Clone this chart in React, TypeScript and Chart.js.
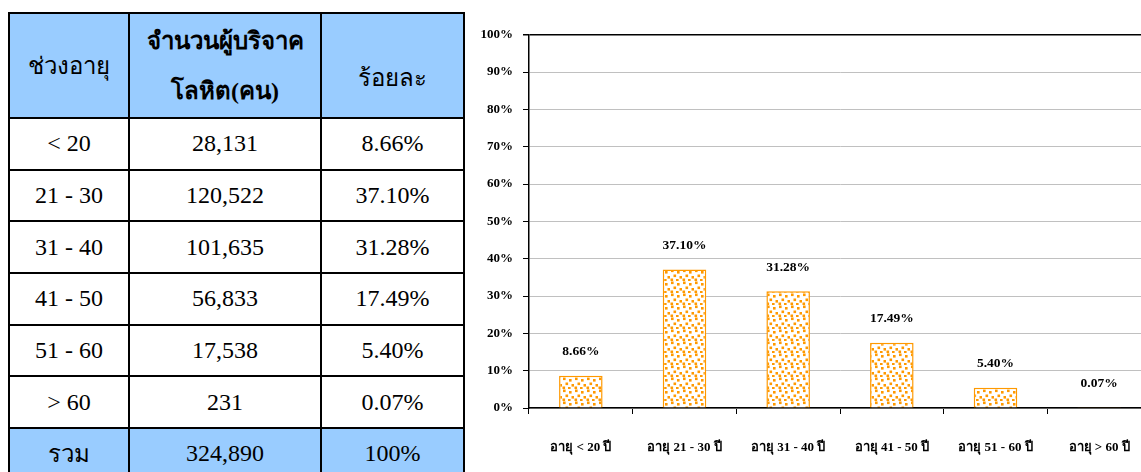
import React, { useEffect, useRef } from "react";
import { Chart, registerables } from "chart.js";

Chart.register(...registerables);

// ---- data ----
const ageRanges = ["< 20", "21 - 30", "31 - 40", "41 - 50", "51 - 60", "> 60"];
const donorCounts = [28131, 120522, 101635, 56833, 17538, 231];
const percents = [8.66, 37.1, 31.28, 17.49, 5.4, 0.07];
const chartLabels = [
  "อายุ < 20 ปี",
  "อายุ 21 - 30 ปี",
  "อายุ 31 - 40 ปี",
  "อายุ 41 - 50 ปี",
  "อายุ 51 - 60 ปี",
  "อายุ > 60 ปี",
];
const headerAge = "ช่วงอายุ";
const headerCountLines = ["จำนวนผู้บริจาค", "โลหิต(คน)"];
const headerPercent = "ร้อยละ";
const totalLabel = "รวม";
const totalCount = 324890;
const totalPercent = "100%";

const SERIF = '"Times New Roman", "Liberation Serif", "DejaVu Serif", serif';
const ORANGE = "#FF9900";

function makePattern(): CanvasPattern | string {
  const c = document.createElement("canvas");
  c.width = 12;
  c.height = 12;
  const g = c.getContext("2d");
  if (!g) return ORANGE;
  g.fillStyle = "#FFFFFF";
  g.fillRect(0, 0, 12, 12);
  g.fillStyle = ORANGE;
  const dots = [
    [1, 0.5],
    [7, 2],
    [3.5, 5.5],
    [9.5, 7],
    [0.5, 9.5],
    [6, 10],
  ];
  dots.forEach(([x, y]) => g.fillRect(x, y, 2.6, 2.6));
  const p = g.createPattern(c, "repeat");
  return p || ORANGE;
}

const fmt = (n: number) => n.toLocaleString("en-US");

const labelPlugin = {
  id: "barValueLabels",
  afterDatasetsDraw(chart: any) {
    const ctx = chart.ctx;
    const meta = chart.getDatasetMeta(0);
    ctx.save();
    ctx.font = `bold 13.5px ${SERIF}`;
    ctx.fillStyle = "#000";
    ctx.textAlign = "center";
    ctx.textBaseline = "middle";
    meta.data.forEach((bar: any, i: number) => {
      ctx.fillText(percents[i].toFixed(2) + "%", bar.x, bar.y - 24);
    });
    ctx.restore();
  },
};

function BarChart() {
  const ref = useRef<HTMLCanvasElement | null>(null);
  useEffect(() => {
    if (!ref.current) return;
    const pattern = makePattern();
    const chart = new Chart(ref.current, {
      type: "bar",
      data: {
        labels: chartLabels,
        datasets: [
          {
            data: percents,
            backgroundColor: pattern as any,
            borderColor: ORANGE,
            borderWidth: 1.5,
            categoryPercentage: 1,
            barPercentage: 0.42,
          },
        ],
      },
      options: {
        responsive: false,
        animation: false,
        layout: { padding: { top: 11, right: 15, left: 0, bottom: 0 } },
        plugins: {
          legend: { display: false },
          tooltip: { enabled: false },
        },
        scales: {
          x: {
            offset: true,
            grid: {
              offset: true,
              drawOnChartArea: false,
              drawTicks: true,
              tickLength: 6,
              tickColor: "#000",
              color: "#000",
            },
            border: { color: "#000", width: 1.5 },
            ticks: {
              padding: 26,
              color: "#000",
              font: { family: SERIF, size: 13, weight: "bold" },
              maxRotation: 0,
              autoSkip: false,
            },
            afterFit: (s: any) => {
              s.height = 64;
            },
          },
          y: {
            min: 0,
            max: 100,
            grid: {
              color: (c: any) => (c.tick && c.tick.value === 100 ? "#000" : "#C0C0C0"),
              lineWidth: (c: any) => (c.tick && c.tick.value === 100 ? 1.5 : 1),
              tickColor: "#000",
              tickLength: 6,
            },
            border: { color: "#000", width: 1.5 },
            ticks: {
              stepSize: 10,
              padding: 10,
              color: "#000",
              font: { family: SERIF, size: 13, weight: "bold" },
              callback: (v: any) => v + "%",
            },
            afterFit: (s: any) => {
              s.width = 63;
            },
          },
        },
      },
      plugins: [labelPlugin],
    });
    return () => chart.destroy();
  }, []);
  return (
    <canvas
      ref={ref}
      width={700}
      height={455}
      style={{ position: "absolute", left: 466, top: 17, width: 700, height: 455 }}
    />
  );
}

const cellBase: React.CSSProperties = {
  border: "2px solid #000",
  textAlign: "center",
  padding: 0,
  fontFamily: SERIF,
  fontSize: 24,
  color: "#000",
};

export default function App() {
  const colW = [120, 192, 143];
  const rowH = 51.7;
  return (
    <div
      style={{
        position: "fixed",
        left: 0,
        top: 0,
        width: 1141,
        height: 472,
        overflow: "hidden",
        background: "#fff",
      }}
    >
      <table
        style={{
          position: "absolute",
          left: 8,
          top: 12,
          borderCollapse: "collapse",
          tableLayout: "fixed",
          width: colW[0] + colW[1] + colW[2],
        }}
      >
        <colgroup>
          {colW.map((w, i) => (
            <col key={i} style={{ width: w }} />
          ))}
        </colgroup>
        <tbody>
          <tr style={{ height: 105, background: "#99CCFF" }}>
            <td style={{ ...cellBase, verticalAlign: "middle" }}>{headerAge}</td>
            <td style={{ ...cellBase, fontWeight: "bold", lineHeight: "50px" }}>
              {headerCountLines[0]}
              <br />
              {headerCountLines[1]}
            </td>
            <td style={{ ...cellBase, verticalAlign: "bottom", paddingBottom: 20 }}>
              {headerPercent}
            </td>
          </tr>
          {ageRanges.map((r, i) => (
            <tr key={r} style={{ height: rowH }}>
              <td style={cellBase}>{r}</td>
              <td style={cellBase}>{fmt(donorCounts[i])}</td>
              <td style={cellBase}>{percents[i].toFixed(2)}%</td>
            </tr>
          ))}
          <tr style={{ height: rowH, background: "#99CCFF" }}>
            <td style={cellBase}>{totalLabel}</td>
            <td style={cellBase}>{fmt(totalCount)}</td>
            <td style={cellBase}>{totalPercent}</td>
          </tr>
        </tbody>
      </table>
      <BarChart />
    </div>
  );
}
